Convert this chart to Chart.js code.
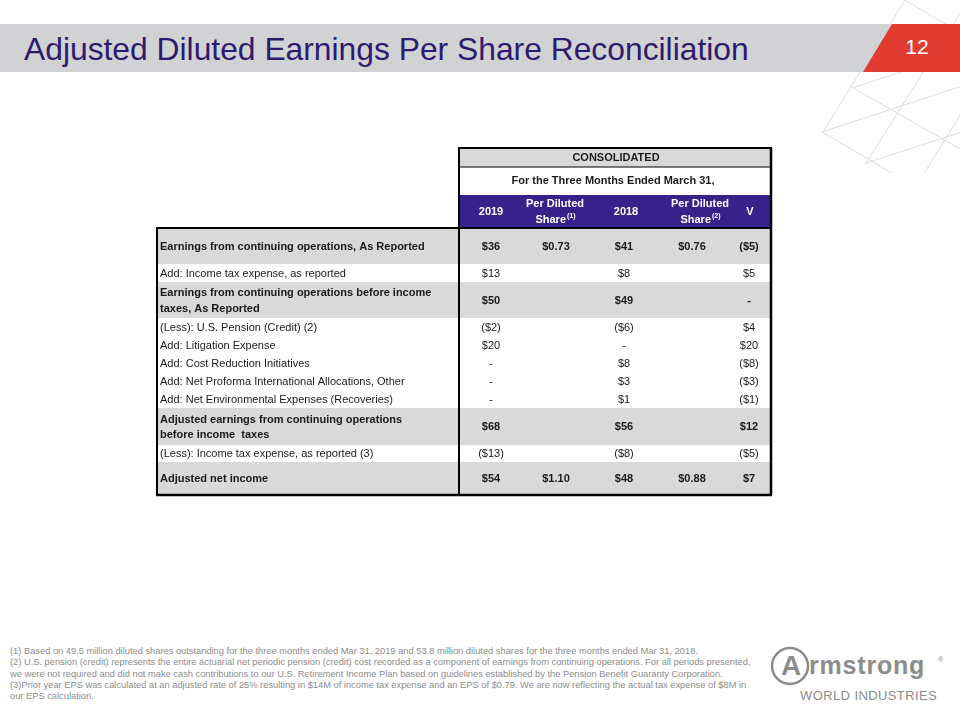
<!DOCTYPE html>
<html>
<head>
<meta charset="utf-8">
<script src="https://cdn.jsdelivr.net/npm/chart.js@4.4.1/dist/chart.umd.min.js"></script>
<style>
    body { margin: 0; width: 960px; height: 720px; background: #fff; position: relative; overflow: hidden; font-family: "Liberation Sans", Arial, sans-serif; }
    #deco { position: absolute; left: 0; top: 0; }
    #title { position: absolute; left: 24px; top: 31px; font-size: 31.8px; color: #2e1a6e; white-space: nowrap; }
    #page-no { position: absolute; left: 896px; top: 35px; width: 42px; text-align: center; font-size: 21px; color: #fff; }
    #table-wrap { position: absolute; left: 150px; top: 140px; }
    #notes { position: absolute; left: 10px; top: 646px; font-size: 9.3px; line-height: 11.3px; color: #8c8c8c; white-space: nowrap; }
</style>
</head>
<body>
<svg id="deco" width="960" height="720">
    <g stroke="#dcdcdc" stroke-width="1" fill="none">
        <line x1="823" y1="132" x2="905" y2="0"/>
        <line x1="865" y1="165" x2="962" y2="10"/>
        <line x1="925" y1="172" x2="962" y2="112"/>
        <line x1="850" y1="86" x2="962" y2="150"/>
        <line x1="822" y1="132" x2="892" y2="173"/>
        <line x1="905" y1="0" x2="962" y2="34"/>
        <line x1="822" y1="132" x2="962" y2="86"/>
        <line x1="866" y1="163" x2="962" y2="132"/>
        <line x1="852" y1="88" x2="962" y2="52"/>
    </g>
    <rect x="0" y="24" width="960" height="48" fill="#d1d2d4"/>
    <polygon points="892,24 960,24 960,72 863,72" fill="#e03c31"/>
    <g fill="#8c8c8c" font-family="Liberation Sans, Arial, sans-serif">
        <circle cx="790" cy="666" r="18" fill="none" stroke="#8c8c8c" stroke-width="2.5"/>
        <text x="791" y="675" font-size="28" font-weight="bold" text-anchor="middle">A</text>
        <text x="809" y="674" font-size="25" font-weight="bold" letter-spacing="0.8">rmstrong</text>
        <text x="938" y="662" font-size="7">®</text>
        <text x="800" y="700" font-size="13" letter-spacing="0.4">WORLD INDUSTRIES</text>
    </g>
</svg>
<div id="title">Adjusted Diluted Earnings Per Share Reconciliation</div>
<div id="page-no">12</div>
<div id="table-wrap"><canvas id="recon-table" width="630" height="365"></canvas></div>
<div id="notes">
    (1) Based on 49.5 million diluted shares outstanding for the three months ended Mar 31, 2019 and 53.8 million diluted shares for the three months ended Mar 31, 2018.<br>
    (2) U.S. pension (credit) represents the entire actuarial net periodic pension (credit) cost recorded as a component of earnings from continuing operations. For all periods presented,<br>
    we were not required and did not make cash contributions to our U.S. Retirement Income Plan based on guidelines established by the Pension Benefit Guaranty Corporation.<br>
    (3)Prior year EPS was calculated at an adjusted rate of 25% resulting in $14M of income tax expense and an EPS of $0.79. We are now reflecting the actual tax expense of $8M in<br>
    our EPS calculation.
</div>
<script>
// table content
const groupTitle = 'CONSOLIDATED';
const periodTitle = 'For the Three Months Ended March 31,';
const columnHeaders = [['2019'], ['Per Diluted', 'Share', '(1)'], ['2018'], ['Per Diluted', 'Share', '(2)'], ['V']];

const rowLabels = [
    ['Earnings from continuing operations, As Reported'],
    ['Add: Income tax expense, as reported'],
    ['Earnings from continuing operations before income', 'taxes, As Reported'],
    ['(Less): U.S. Pension (Credit) (2)'],
    ['Add: Litigation Expense'],
    ['Add: Cost Reduction Initiatives'],
    ['Add: Net Proforma International Allocations, Other'],
    ['Add: Net Environmental Expenses (Recoveries)'],
    ['Adjusted earnings from continuing operations', 'before income  taxes'],
    ['(Less): Income tax expense, as reported (3)'],
    ['Adjusted net income']
];
const subtotalRows = [true, false, true, false, false, false, false, false, true, false, true];

const earnings2019 = ['$36', '$13', '$50', '($2)', '$20', '-', '-', '-', '$68', '($13)', '$54'];
const perShare2019 = ['$0.73', '', '', '', '', '', '', '', '', '', '$1.10'];
const earnings2018 = ['$41', '$8', '$49', '($6)', '-', '$8', '$3', '$1', '$56', '($8)', '$48'];
const perShare2018 = ['$0.76', '', '', '', '', '', '', '', '', '', '$0.88'];
const variance = ['($5)', '$5', '-', '$4', '$20', '($8)', '($3)', '($1)', '$12', '($5)', '$7'];

// layout in table units
const TABLE_W = 630, TABLE_H = 365;
const edges = { left: 7, divider: 309, right: 621 };
const headBands = [8, 27, 55, 88];
const rowHeights = [36, 18, 36, 18, 18, 18, 18, 18, 37, 17, 33];
const headerCenters = [341, 405, 476, 550, 600];
const valueCenters = [341, 406, 474, 542, 599];
const labelX = 10;

const fontFamily = '"Liberation Sans", Arial, sans-serif';

const tablePlugin = {
    id: 'reconTable',
    afterDraw(chart) {
        const { ctx } = chart;
        const x = v => chart.scales.x.getPixelForValue(v);
        const y = v => chart.scales.y.getPixelForValue(v);
        const columns = [earnings2019, perShare2019, earnings2018, perShare2018, variance];

        ctx.save();

        // header band backgrounds
        ctx.fillStyle = '#d9d9d9';
        ctx.fillRect(x(edges.divider), y(headBands[0]), x(edges.right) - x(edges.divider), y(headBands[1]) - y(headBands[0]));
        ctx.fillStyle = '#36228a';
        ctx.fillRect(x(edges.divider), y(headBands[2]), x(edges.right) - x(edges.divider), y(headBands[3]) - y(headBands[2]));

        // body row backgrounds
        let top = headBands[3];
        const rowTops = [];
        rowHeights.forEach((h, i) => {
            rowTops.push(top);
            if (subtotalRows[i]) {
                ctx.fillStyle = '#d9d9d9';
                ctx.fillRect(x(edges.left), y(top), x(edges.right) - x(edges.left), y(top + h) - y(top));
            }
            top += h;
        });
        const bodyBottom = top;

        ctx.textBaseline = 'middle';

        // header text
        const spanCenter = (edges.divider + edges.right) / 2;
        ctx.fillStyle = '#1a1a1a';
        ctx.font = `bold 11px ${fontFamily}`;
        ctx.textAlign = 'center';
        ctx.fillText(groupTitle, x(spanCenter + 1), y((headBands[0] + headBands[1]) / 2 + 0.5));
        ctx.fillText(periodTitle, x(spanCenter - 2), y((headBands[1] + headBands[2]) / 2));

        ctx.fillStyle = '#ffffff';
        const headMid = (headBands[2] + headBands[3]) / 2;
        columnHeaders.forEach((lines, i) => {
            const cx = x(headerCenters[i]);
            ctx.font = `bold 11px ${fontFamily}`;
            ctx.textAlign = 'center';
            if (lines.length === 1) {
                ctx.fillText(lines[0], cx, y(headMid));
            } else {
                ctx.fillText(lines[0], cx, y(headMid - 8));
                const w1 = ctx.measureText(lines[1]).width;
                ctx.font = `bold 7px ${fontFamily}`;
                const w2 = ctx.measureText(lines[2]).width;
                const start = cx - (w1 + w2) / 2;
                ctx.textAlign = 'left';
                ctx.font = `bold 11px ${fontFamily}`;
                ctx.fillText(lines[1], start, y(headMid + 8));
                ctx.font = `bold 7px ${fontFamily}`;
                ctx.fillText(lines[2], start + w1 + 1, y(headMid + 5));
            }
        });

        // body text
        ctx.fillStyle = '#1a1a1a';
        rowLabels.forEach((lines, i) => {
            const mid = rowTops[i] + rowHeights[i] / 2;
            ctx.font = `${subtotalRows[i] ? 'bold ' : ''}11px ${fontFamily}`;
            ctx.textAlign = 'left';
            if (lines.length === 1) {
                ctx.fillText(lines[0], x(labelX), y(mid + 0.5));
            } else {
                ctx.fillText(lines[0], x(labelX), y(mid - 7));
                ctx.fillText(lines[1], x(labelX), y(mid + 8.5));
            }
            ctx.textAlign = 'center';
            columns.forEach((col, c) => {
                if (col[i]) ctx.fillText(col[i], x(valueCenters[c]), y(mid + 0.5));
            });
        });

        // borders
        const line = (x1, y1, x2, y2, w) => {
            ctx.beginPath();
            ctx.lineWidth = w;
            ctx.strokeStyle = '#000';
            ctx.moveTo(x(x1), y(y1));
            ctx.lineTo(x(x2), y(y2));
            ctx.stroke();
        };
        line(edges.divider - 1, headBands[0], edges.right + 1, headBands[0], 2);
        line(edges.divider, headBands[1], edges.right, headBands[1], 1);
        line(edges.left - 1, headBands[3], edges.right + 1, headBands[3], 2);
        line(edges.left - 1, bodyBottom, edges.right + 1, bodyBottom, 2.5);
        line(edges.left, headBands[3], edges.left, bodyBottom, 2);
        line(edges.divider, headBands[0], edges.divider, bodyBottom, 2);
        line(edges.right, headBands[0], edges.right, bodyBottom, 2.5);

        ctx.restore();
    }
};

new Chart(document.getElementById('recon-table'), {
    type: 'scatter',
    data: { datasets: [] },
    options: {
        responsive: false,
        animation: false,
        layout: { padding: 0 },
        plugins: { legend: { display: false }, tooltip: { enabled: false } },
        scales: {
            x: { type: 'linear', min: 0, max: TABLE_W, display: false },
            y: { type: 'linear', min: 0, max: TABLE_H, reverse: true, display: false }
        }
    },
    plugins: [tablePlugin]
});
</script>
</body>
</html>
